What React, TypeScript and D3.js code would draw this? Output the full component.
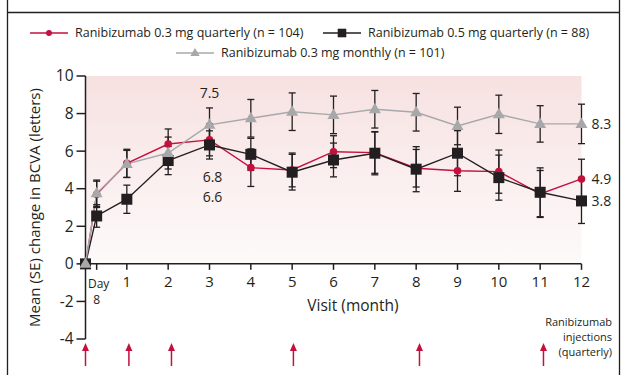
import * as d3 from "d3";

// visit times in months (0.27 = day 8)
const visits = [0, 0.27, 1, 2, 3, 4, 5, 6, 7, 8, 9, 10, 11, 12];

const q03Mean = [0, 3.7, 5.35, 6.38, 6.6, 5.12, 5.0, 5.97, 5.92, 5.09, 4.96, 4.91, 3.72, 4.52];
const q03Se = [0, 0.7, 0.75, 0.8, 0.85, 1.0, 0.9, 0.85, 1.1, 1.0, 1.1, 1.15, 1.25, 1.05];

const q05Mean = [0, 2.55, 3.44, 5.5, 6.33, 5.83, 4.88, 5.53, 5.89, 5.04, 5.89, 4.59, 3.81, 3.35];
const q05Se = [0, 0.6, 0.75, 0.75, 0.75, 0.85, 0.95, 0.9, 1.15, 1.2, 1.2, 1.2, 1.3, 1.2];

const m03Mean = [0, 3.76, 5.32, 5.9, 7.4, 7.75, 8.1, 7.93, 8.23, 8.07, 7.34, 7.96, 7.45, 7.45];
const m03Se = [0, 0.7, 0.72, 0.85, 0.9, 1.0, 1.0, 1.0, 1.0, 1.0, 1.0, 1.02, 0.97, 1.05];

const xTicks = [1, 2, 3, 4, 5, 6, 7, 8, 9, 10, 11, 12];
const yTicks = [-4, -2, 0, 2, 4, 6, 8, 10];
const injections = [0, 1.05, 2.08, 5.03, 8.08, 11.08];

const series = [
  { name: "Ranibizumab 0.3 mg quarterly (n = 104)", mean: q03Mean, se: q03Se, color: "#c4103d", marker: "circle", endLabel: "4.9" },
  { name: "Ranibizumab 0.5 mg quarterly (n = 88)", mean: q05Mean, se: q05Se, color: "#231f20", marker: "square", endLabel: "3.8" },
  { name: "Ranibizumab 0.3 mg monthly (n = 101)", mean: m03Mean, se: m03Se, color: "#a7a8aa", marker: "triangle", endLabel: "8.3" },
];

// month-3 value labels
const m3Labels = [
  { text: "7.5", v: 9.1 },
  { text: "6.8", v: 4.63 },
  { text: "6.6", v: 3.56 },
];

const FONT = "'Open Sans', 'DejaVu Sans', sans-serif";
const INK = "#231f20";

function Marker({ type, x, y, color, size = 1 }: { type: string; x: number; y: number; color: string; size?: number }) {
  if (type === "circle") return <circle cx={x} cy={y} r={3.8 * size} fill={color} />;
  if (type === "square") {
    const s = 11 * size;
    return <rect x={x - s / 2} y={y - s / 2} width={s} height={s} fill={color} />;
  }
  const w = 12 * size, h = 10.5 * size;
  return <path d={`M${x},${y - h * 0.62}L${x + w / 2},${y + h * 0.38}L${x - w / 2},${y + h * 0.38}Z`} fill={color} />;
}

export default function App() {
  const width = 623, height = 375;
  const x = d3.scaleLinear().domain([0, 12]).range([85.5, 581.5]);
  const y = d3.scaleLinear().domain([-4, 10]).range([339, 76]);
  const line = d3.line<number>().x((_, i) => x(visits[i])).y(d => y(d));

  return (
    <svg width={width} height={height} style={{ position: "absolute", left: 0, top: 0, fontFamily: FONT }}>
      <defs>
        <linearGradient id="bg" x1="0" y1="0" x2="0" y2="1">
          <stop offset="0" stopColor="#f7e1e1" />
          <stop offset="1" stopColor="#fdfafa" />
        </linearGradient>
      </defs>
      <rect width={width} height={height} fill="#fff" />
      {/* frame */}
      <line x1={7.5} x2={7.5} y1={0} y2={height} stroke={INK} strokeWidth={1.3} />
      <line x1={619.5} x2={619.5} y1={0} y2={height} stroke={INK} strokeWidth={1.3} />
      <line x1={7.5} x2={619.5} y1={12.5} y2={12.5} stroke={INK} strokeWidth={1.3} />

      {/* legend */}
      {[
        { s: series[0], lx: 30, ly: 33 },
        { s: series[1], lx: 323, ly: 33 },
        { s: series[2], lx: 176, ly: 53 },
      ].map(({ s, lx, ly }) => (
        <g key={s.name}>
          <line x1={lx} x2={lx + 38} y1={ly} y2={ly} stroke={s.color} strokeWidth={1.5} />
          <Marker type={s.marker} x={lx + 19} y={ly} color={s.color} size={0.78} />
          <text x={lx + 45} y={ly} dy="0.35em" fontSize={12.5} fill={INK}>{s.name}</text>
        </g>
      ))}

      {/* plot background */}
      <rect x={x(0)} y={y(10)} width={x(12) - x(0)} height={y(0) - y(10)} fill="url(#bg)" />

      {/* y axis */}
      <line x1={x(0)} x2={x(0)} y1={y(10)} y2={y(-4)} stroke={INK} strokeWidth={1.5} />
      {yTicks.map(t => (
        <g key={t} transform={`translate(${x(0)},${y(t)})`}>
          <line x1={-9} x2={0} stroke={INK} strokeWidth={1.5} />
          <text x={-12} dy="0.35em" textAnchor="end" fontSize={15.5} fill={INK}>{t}</text>
        </g>
      ))}
      <text transform={`translate(35,${(y(10) + y(-4)) / 2}) rotate(-90)`} textAnchor="middle" dy="0.35em" fontSize={15} fill={INK}>
        Mean (SE) change in BCVA (letters)
      </text>

      {/* x axis */}
      <line x1={x(0)} x2={x(12)} y1={y(0)} y2={y(0)} stroke={INK} strokeWidth={1.5} />
      {[visits[1], ...xTicks].map(t => (
        <line key={t} x1={x(t)} x2={x(t)} y1={y(0)} y2={y(0) + 6} stroke={INK} strokeWidth={1.5} />
      ))}
      {xTicks.map(t => (
        <text key={t} x={x(t)} y={287} textAnchor="middle" fontSize={15} fill={INK}>{t}</text>
      ))}
      <text textAnchor="middle" fontSize={12} fill={INK}>
        <tspan x={x(visits[1]) + 2} y={288}>Day</tspan>
        <tspan x={x(visits[1])} y={304}>8</tspan>
      </text>
      <text x={353} y={311} textAnchor="middle" fontSize={15.5} fill={INK}>Visit (month)</text>

      {/* lines */}
      {series.map(s => (
        <path key={s.name} d={line(s.mean) ?? ""} fill="none" stroke={s.color} strokeWidth={1.4} />
      ))}
      {/* error bars */}
      {series.map(s => (
        <g key={s.name} stroke={INK} strokeWidth={1.3}>
          {s.mean.map((m, i) => s.se[i] > 0 && (
            <g key={i}>
              <line x1={x(visits[i])} x2={x(visits[i])} y1={y(m - s.se[i])} y2={y(m + s.se[i])} />
              <line x1={x(visits[i]) - 3.5} x2={x(visits[i]) + 3.5} y1={y(m - s.se[i])} y2={y(m - s.se[i])} />
              <line x1={x(visits[i]) - 3.5} x2={x(visits[i]) + 3.5} y1={y(m + s.se[i])} y2={y(m + s.se[i])} />
            </g>
          ))}
        </g>
      ))}
      {/* markers */}
      {series.map(s => (
        <g key={s.name}>
          {s.mean.map((m, i) => (
            <Marker key={i} type={s.marker} x={x(visits[i])} y={y(m)} color={s.color} />
          ))}
        </g>
      ))}

      {/* value labels */}
      {m3Labels.map(l => (
        <text key={l.text} x={x(3) + (l.text === "7.5" ? 0 : 3)} y={y(l.v)} dy="0.35em" textAnchor="middle" fontSize={14} fill={INK}>{l.text}</text>
      ))}
      {series.map(s => (
        <text key={s.name} x={x(12) + 10} y={y(s.mean[s.mean.length - 1])} dy="0.35em" fontSize={14} fill={INK}>{s.endLabel}</text>
      ))}

      {/* injection arrows */}
      {injections.map(m => (
        <g key={m} fill="#c4103d" stroke="#c4103d">
          <line x1={x(m)} x2={x(m)} y1={366} y2={348} strokeWidth={1.5} />
          <path d={`M${x(m)},${343}L${x(m) + 3.5},${351}L${x(m) - 3.5},${351}Z`} stroke="none" />
        </g>
      ))}
      <text textAnchor="end" fontSize={11} fill={INK}>
        <tspan x={612} y={326}>Ranibizumab</tspan>
        <tspan x={612} y={341}>injections</tspan>
        <tspan x={612} y={356}>(quarterly)</tspan>
      </text>
    </svg>
  );
}
